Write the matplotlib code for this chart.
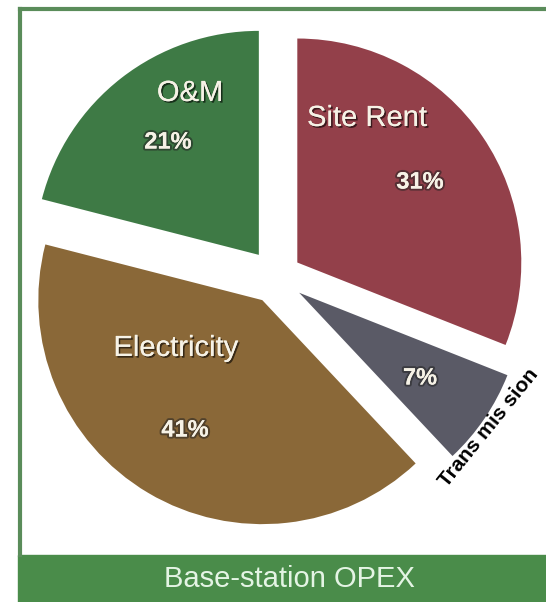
import matplotlib
matplotlib.use("Agg")
import matplotlib.pyplot as plt
import matplotlib.patheffects as pe
from matplotlib.patches import Rectangle

# data
categories = ["Site Rent", "Transmission", "Electricity", "O&M"]
shares = [31, 7, 41, 21]
colors = ["#93404a", "#5a5a66", "#8a6838", "#3e7a45"]
explode = [0.115, 0.125, 0.12, 0.125]   # fraction of radius

plt.rcParams["font.family"] = ["Liberation Sans", "DejaVu Sans"]

W, H = 546, 602
fig = plt.figure(figsize=(W / 100, H / 100), dpi=100)
ax = fig.add_axes([0, 0, 1, 1])

cx, cy, R = 276, 325, 224
# pie's explode is in data units, so scale by the radius
wedges, _ = ax.pie(shares, colors=colors, explode=[e * R for e in explode],
                   startangle=90, counterclock=False, center=(cx, cy), radius=R,
                   wedgeprops=dict(linewidth=0))

ax.set_xlim(0, W)
ax.set_ylim(0, H)
ax.set_aspect("equal")
ax.axis("off")

# frame and footer bar
green = "#4a8c4a"
ax.add_patch(Rectangle((18, 0), W - 18, 47, color=green, zorder=0))
ax.plot([20, 20], [47, H - 9], color="#5a8c5a", lw=3, zorder=0)
ax.plot([20, W], [H - 9, H - 9], color="#5a8c5a", lw=3, zorder=0)
ax.text(289, 23, "Base-station OPEX", color="#e4f4e4", fontsize=21,
        ha="center", va="center")

shadow = [pe.withSimplePatchShadow(offset=(1.2, -1.2), shadow_rgbFace="black",
                                   alpha=0.6), pe.Normal()]
glow = [pe.withStroke(linewidth=3, foreground="#222222", alpha=0.55), pe.Normal()]
txt = "#f6f2e6"

# category names
ax.text(190, 509, "O&M", color=txt, fontsize=21, ha="center", va="center",
        path_effects=shadow)
ax.text(367, 484, "Site Rent", color=txt, fontsize=21, ha="center", va="center",
        path_effects=shadow)
ax.text(176, 254, "Electricity", color=txt, fontsize=21, ha="center", va="center",
        path_effects=shadow)
ax.text(489, 174, "Trans mis sion", color="black", fontsize=15, fontweight="bold",
        ha="center", va="center", rotation=51)

# percentages
pct_pos = {"Site Rent": (420, 420), "Transmission": (420, 224),
           "Electricity": (185, 172), "O&M": (168, 460)}
for name, val in zip(categories, shares):
    x, y = pct_pos[name]
    ax.text(x, y, f"{val}%", color=txt, fontsize=17, fontweight="bold",
            ha="center", va="center", path_effects=glow)

fig.savefig("out.png", dpi=100, facecolor="white")
